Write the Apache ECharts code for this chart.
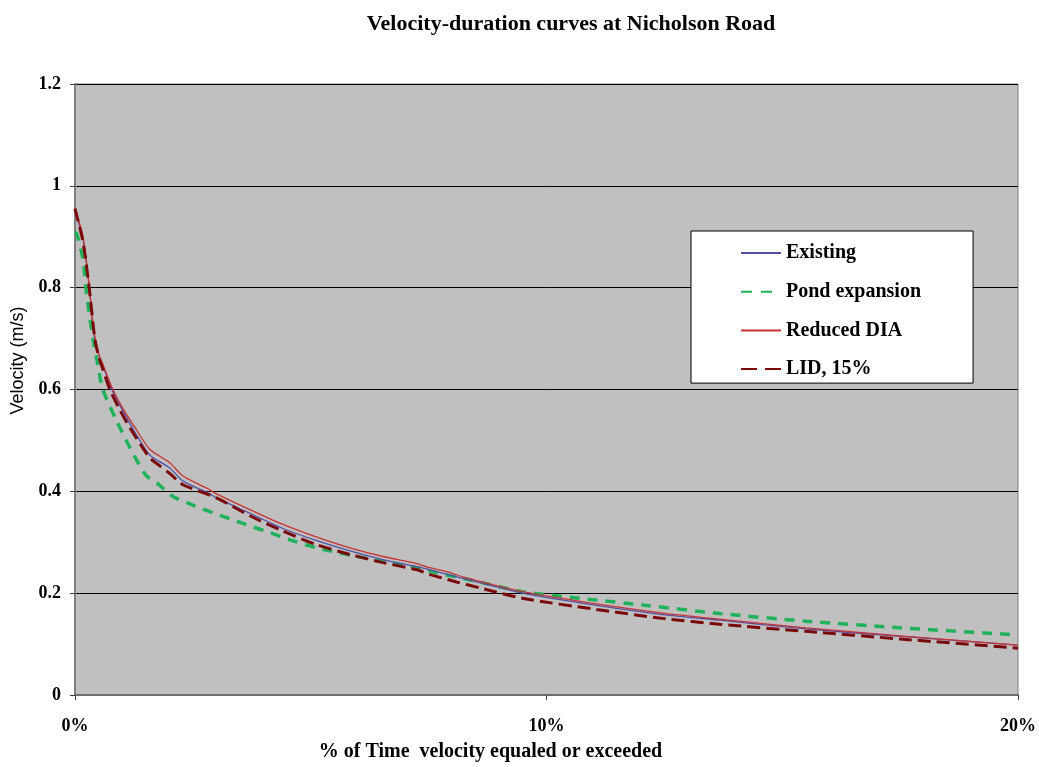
<!DOCTYPE html>
<html>
<head>
<meta charset="utf-8">
<script src="https://cdn.jsdelivr.net/npm/echarts@6/dist/echarts.min.js"></script>
<style>
html,body{margin:0;padding:0;background:#fff;}
#chart{width:1039px;height:767px;}
</style>
</head>
<body>
<div id="chart"></div>
<script>
// % of time (x) and velocity m/s (y)
const existingX = [0, 0.17, 0.30, 0.38, 0.42, 0.51, 0.59, 0.78, 1.02, 1.31, 1.59, 2.01, 2.29, 2.82, 3.0, 3.71, 4.41, 5.13, 5.83, 6.53, 7.25, 7.52, 7.94, 8.22, 9.49, 11.06, 12.46, 13.67, 15.5, 17.5, 20];
const existingY = [0.95, 0.895, 0.803, 0.725, 0.70, 0.666, 0.647, 0.60, 0.557, 0.51, 0.471, 0.446, 0.42, 0.397, 0.387, 0.357, 0.327, 0.303, 0.283, 0.266, 0.252, 0.246, 0.236, 0.229, 0.2, 0.176, 0.158, 0.147, 0.13, 0.115, 0.098];

const reducedX = [0, 0.17, 0.30, 0.38, 0.42, 0.51, 0.59, 0.78, 1.02, 1.31, 1.59, 2.01, 2.29, 2.82, 3.0, 3.71, 4.41, 5.13, 5.83, 6.53, 7.25, 7.52, 7.94, 8.22, 9.49, 11.06, 12.46, 13.67, 15.5, 17.5, 20];
const reducedY = [0.955, 0.90, 0.805, 0.73, 0.705, 0.668, 0.65, 0.605, 0.562, 0.52, 0.482, 0.456, 0.43, 0.405, 0.395, 0.364, 0.335, 0.31, 0.289, 0.272, 0.258, 0.25, 0.241, 0.232, 0.203, 0.179, 0.161, 0.149, 0.132, 0.116, 0.098];

const lidX = [0, 0.17, 0.30, 0.42, 0.51, 0.59, 0.74, 0.95, 1.17, 1.44, 1.59, 1.8, 2.01, 2.29, 3.0, 3.71, 4.41, 5.13, 5.83, 6.53, 7.25, 7.52, 8.09, 8.6, 9.49, 11.06, 12.5, 13.67, 15.5, 17.5, 20];
const lidY = [0.955, 0.89, 0.80, 0.70, 0.662, 0.64, 0.60, 0.56, 0.524, 0.485, 0.465, 0.45, 0.435, 0.413, 0.387, 0.352, 0.322, 0.295, 0.276, 0.26, 0.246, 0.237, 0.222, 0.21, 0.19, 0.168, 0.15, 0.139, 0.125, 0.11, 0.092];

const pondX = [0, 0.04, 0.17, 0.23, 0.30, 0.38, 0.48, 0.59, 0.89, 1.17, 1.5, 1.74, 2.08, 2.5, 2.92, 3.35, 3.71, 4.13, 4.62, 5.13, 5.61, 6.1, 6.68, 7.25, 7.67, 8.43, 9.49, 10.7, 12.12, 13.67, 15.5, 17.5, 20];
const pondY = [0.91, 0.905, 0.856, 0.80, 0.75, 0.70, 0.65, 0.60, 0.537, 0.485, 0.432, 0.416, 0.39, 0.373, 0.358, 0.344, 0.332, 0.319, 0.303, 0.289, 0.279, 0.27, 0.26, 0.25, 0.24, 0.225, 0.203, 0.19, 0.176, 0.16, 0.145, 0.132, 0.118];

const seriesNames = ['Existing', 'Pond expansion', 'Reduced DIA', 'LID, 15%'];
const xTicks = [0, 10, 20];
const yTicks = [0, 0.2, 0.4, 0.6, 0.8, 1, 1.2];

function zip(xs, ys){ return xs.map((x,i)=>[x, ys[i]]); }

const serif = '"Liberation Serif", "Times New Roman", serif';
const chart = echarts.init(document.getElementById('chart'));
chart.setOption({
  backgroundColor: '#ffffff',
  animation: false,
  title: {
    text: 'Velocity-duration curves at Nicholson Road',
    left: 566, top: 8, textAlign: 'center',
    textStyle: {fontFamily: serif, fontWeight: 'bold', fontSize: 22, color: '#000'}
  },
  legend: {
    orient: 'vertical',
    left: 691, top: 231,
    backgroundColor: '#ffffff',
    borderColor: '#000000', borderWidth: 1,
    padding: [12, 52, 4, 49],
    itemWidth: 40, itemHeight: 20, itemGap: 18.7,
    itemStyle: {opacity: 0},
    textStyle: {fontFamily: serif, fontWeight: 'bold', fontSize: 20, color: '#000'},
    data: [
      {name: seriesNames[0]},
      {name: seriesNames[1], lineStyle: {type: [11, 9]}},
      {name: seriesNames[2]},
      {name: seriesNames[3], lineStyle: {type: [16, 8]}}
    ]
  },
  grid: {
    left: 75, right: 20, top: 84, bottom: 69,
    show: true, backgroundColor: '#c0c0c0', borderColor: '#808080', borderWidth: 1
  },
  xAxis: {
    type: 'value', min: xTicks[0], max: xTicks[2], interval: xTicks[1]-xTicks[0],
    name: '% of Time  velocity equaled or exceeded',
    nameLocation: 'middle', nameGap: 47,
    nameTextStyle: {fontFamily: serif, fontWeight: 'bold', fontSize: 20, color: '#000', padding: [0, 112, 0, 0]},
    axisLine: {show: true, onZero: false, lineStyle: {color: '#6e6e6e', width: 2}},
    axisTick: {show: true, length: 5, lineStyle: {color: '#404040'}},
    axisLabel: {formatter: '{value}%', margin: 22, fontFamily: serif, fontWeight: 'bold', fontSize: 18, color: '#000'},
    splitLine: {show: false}
  },
  yAxis: {
    type: 'value', min: yTicks[0], max: yTicks[6], interval: 0.2,
    name: 'Velocity (m/s)',
    nameLocation: 'middle', nameGap: 48,
    nameTextStyle: {fontFamily: '"Liberation Sans", Arial, sans-serif', fontSize: 18, color: '#000', padding: [0, 0, 0, 58]},
    axisLine: {show: true, lineStyle: {color: '#808080', width: 2}},
    axisTick: {show: true, length: 5, lineStyle: {color: '#404040'}},
    axisLabel: {margin: 14, fontFamily: serif, fontWeight: 'bold', fontSize: 18, color: '#000'},
    splitLine: {show: true, lineStyle: {color: '#000000', width: 1}}
  },
  series: [
    {name: seriesNames[0], type: 'line', symbol: 'none', smooth: 0.25, data: zip(existingX, existingY),
     lineStyle: {color: '#5050a8', width: 1.3}, itemStyle: {color: '#5050a8'}, z: 3},
    {name: seriesNames[1], type: 'line', symbol: 'none', smooth: 0.25, data: zip(pondX, pondY),
     lineStyle: {color: '#1fb25a', width: 3.5, type: [10, 8]}, itemStyle: {color: '#1fb25a'}, z: 2},
    {name: seriesNames[2], type: 'line', symbol: 'none', smooth: 0.25, data: zip(reducedX, reducedY),
     lineStyle: {color: '#c83232', width: 1.3}, itemStyle: {color: '#c83232'}, z: 4},
    {name: seriesNames[3], type: 'line', symbol: 'none', smooth: 0.25, data: zip(lidX, lidY),
     lineStyle: {color: '#7a0a0a', width: 3, type: [13, 6]}, itemStyle: {color: '#7a0a0a'}, z: 5}
  ]
});
</script>
</body>
</html>
